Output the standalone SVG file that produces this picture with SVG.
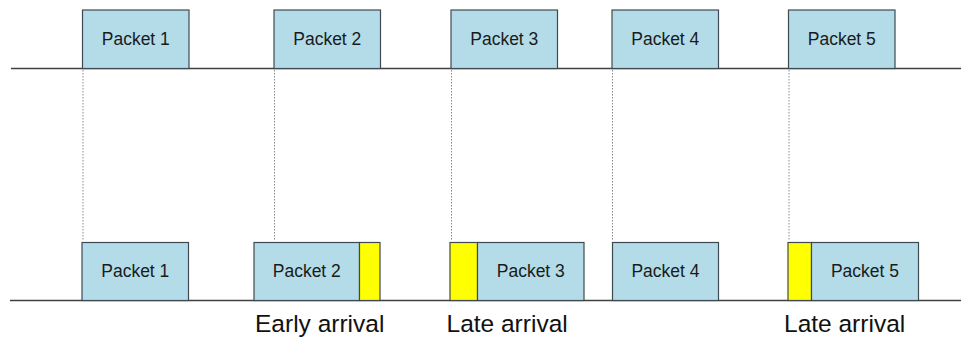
<svg xmlns="http://www.w3.org/2000/svg" width="961" height="339" viewBox="0 0 961 339">
  <style>
    .pkt { fill: #b3dce8; stroke: #3f4a50; stroke-width: 1.2; }
    .pad { fill: #ffff00; stroke: #3f4a50; stroke-width: 1.2; }
    .lbl { font-family: "Liberation Sans", Arial, sans-serif; font-size: 17.5px; fill: #1a1a1a; text-anchor: middle; }
    .cap { font-family: "Liberation Sans", Arial, sans-serif; font-size: 24.5px; fill: #111; }
    .axis { stroke: #404040; stroke-width: 1.4; fill: none; }
    .guide { stroke: #8a8a8a; stroke-width: 1; stroke-dasharray: 1.5 1.5; fill: none; }
  </style>
  <rect width="961" height="339" fill="#ffffff"/>

  <!-- time axes: sender (top) and receiver (bottom) -->
  <g id="axes">
    <line class="axis" x1="11" y1="68.5" x2="961" y2="68.5"/>
    <line class="axis" x1="10" y1="300.5" x2="961" y2="300.5"/>
  </g>

  <!-- dotted guides from sent time to expected arrival -->
  <g id="connectors">
    <line class="guide" x1="83" y1="70" x2="83" y2="240"/>
    <line class="guide" x1="274.5" y1="70" x2="274.5" y2="240"/>
    <line class="guide" x1="451.5" y1="70" x2="451.5" y2="240"/>
    <line class="guide" x1="612.5" y1="70" x2="612.5" y2="240"/>
    <line class="guide" x1="789" y1="70" x2="789" y2="240"/>
  </g>

  <!-- sent packets -->
  <g id="sent-1"><rect class="pkt" x="82.5" y="10" width="106.5" height="58.5"/><text class="lbl" x="135.8" y="45">Packet 1</text></g>
  <g id="sent-2"><rect class="pkt" x="274" y="10" width="106.5" height="58.5"/><text class="lbl" x="327.3" y="45">Packet 2</text></g>
  <g id="sent-3"><rect class="pkt" x="451" y="10" width="106.5" height="58.5"/><text class="lbl" x="504.3" y="45">Packet 3</text></g>
  <g id="sent-4"><rect class="pkt" x="612" y="10" width="106.5" height="58.5"/><text class="lbl" x="665.3" y="45">Packet 4</text></g>
  <g id="sent-5"><rect class="pkt" x="788.5" y="10" width="106.5" height="58.5"/><text class="lbl" x="841.8" y="45">Packet 5</text></g>

  <!-- received packets -->
  <g id="recv-1"><rect class="pkt" x="82" y="242.5" width="106.5" height="58"/><text class="lbl" x="135.3" y="277">Packet 1</text></g>
  <g id="recv-2">
    <rect class="pkt" x="254" y="242.5" width="105.5" height="58"/>
    <rect class="pad" x="359.5" y="242.5" width="20.5" height="58"/>
    <text class="lbl" x="306.8" y="277">Packet 2</text>
  </g>
  <g id="recv-3">
    <rect class="pad" x="450" y="242.5" width="27.5" height="58"/>
    <rect class="pkt" x="477.5" y="242.5" width="106.5" height="58"/>
    <text class="lbl" x="530.8" y="277">Packet 3</text>
  </g>
  <g id="recv-4"><rect class="pkt" x="612.5" y="242.5" width="106" height="58"/><text class="lbl" x="665.5" y="277">Packet 4</text></g>
  <g id="recv-5">
    <rect class="pad" x="788" y="242.5" width="23.5" height="58"/>
    <rect class="pkt" x="811.5" y="242.5" width="107" height="58"/>
    <text class="lbl" x="865" y="277">Packet 5</text>
  </g>

  <!-- arrival annotations -->
  <g id="annotations">
    <text class="cap" x="255" y="332">Early arrival</text>
    <text class="cap" x="446.5" y="332">Late arrival</text>
    <text class="cap" x="784" y="332">Late arrival</text>
  </g>
</svg>
